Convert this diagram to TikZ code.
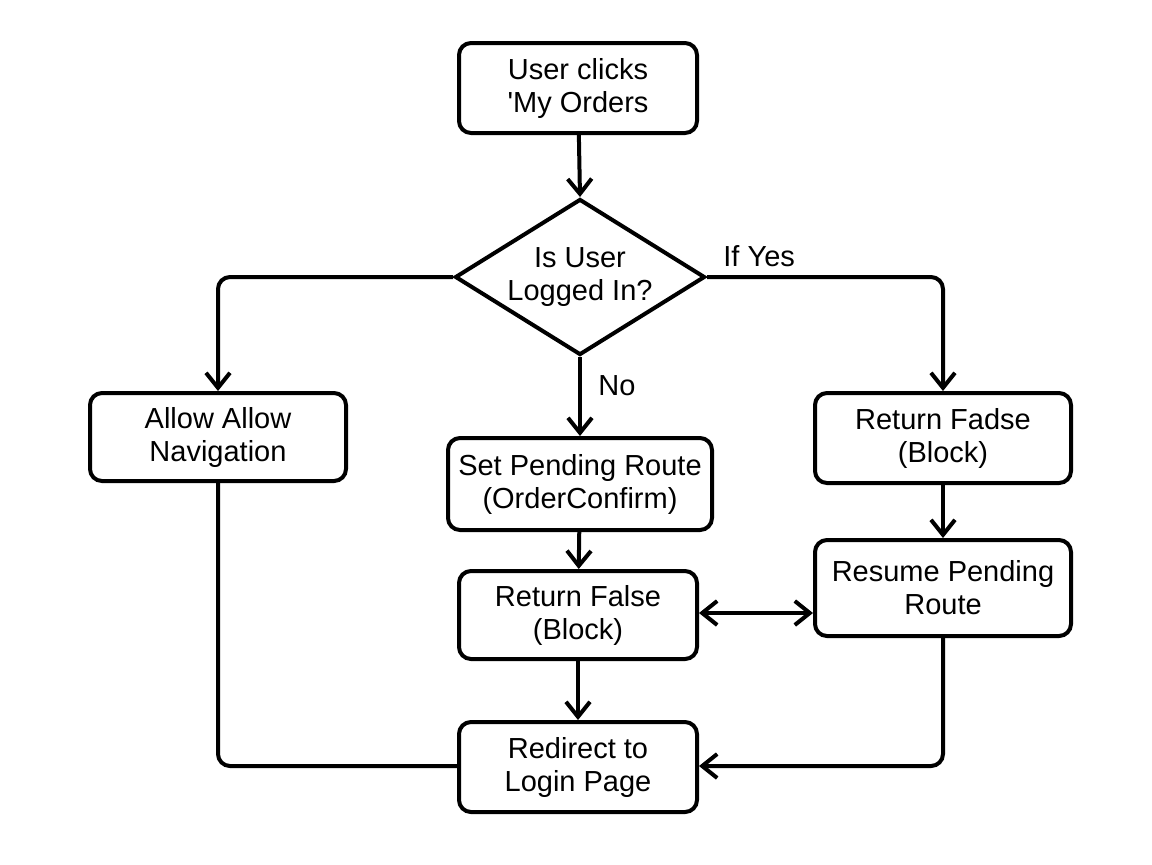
\documentclass[tikz,border=0pt]{standalone}
\usepackage{fontspec}
\setmainfont{Liberation Sans}[Ligatures=TeXOff]
\usetikzlibrary{shapes.geometric,arrows.meta}
\begin{document}
\begin{tikzpicture}[x=0.5pt,y=-0.5pt,
  txt/.style={font=\fontsize{14.5}{16.5}\selectfont},
  box/.style={txt,draw,line width=2pt,rounded corners=6pt,align=center,inner sep=0pt},
  dec/.style={txt,draw,line width=2pt,diamond,shape aspect=1.6,align=center,inner sep=0pt,minimum width=125pt,minimum height=78pt},
  lbl/.style={txt,inner sep=0pt},
  tip/.tip={Straight Barb[length=7.5pt,width=12pt,line width=2pt]},
  conn/.style={line width=2pt,-tip},
  plain/.style={line width=2pt}]
\fill[white] (0,0) rectangle (1152,864);
\useasboundingbox (0,0) rectangle (1152,864);
\node[box,minimum width=119pt,minimum height=45pt] (start) at (578,88) {User clicks\\'My Orders};
\node[dec] (dec) at (580,277) {Is User\\Logged In?};
\node[box,minimum width=128pt,minimum height=44pt] (allow) at (218,437) {Allow Allow\\Navigation};
\node[box,minimum width=132pt,minimum height=46pt] (setp) at (580,484) {Set Pending Route\\(OrderConfirm)};
\node[box,minimum width=128pt,minimum height=45pt] (fadse) at (943,438) {Return Fadse\\(Block)};
\node[box,minimum width=119pt,minimum height=44pt] (rfalse) at (578,615) {Return False\\(Block)};
\node[box,minimum width=128pt,minimum height=48pt] (resume) at (943,588) {Resume Pending\\Route};
\node[box,minimum width=119pt,minimum height=45pt] (redir) at (578,767) {Redirect to\\Login Page};
\node[lbl,anchor=west] (yes) at (723,256) {If Yes};
\node[lbl,anchor=west] (no) at (598,386) {No};
\coordinate (cl) at (218,277);
\coordinate (cr) at (943,277);
\coordinate (bl) at (218,766);
\coordinate (br) at (943,766);
\draw[conn] (start) -- (dec.north);
\draw[conn,rounded corners=6pt] (dec.west) -- (cl) -- (allow.north);
\draw[conn,rounded corners=6pt] (dec.east) -- (cr) -- (fadse.north);
\draw[conn] (dec.south) -- (setp.north);
\draw[conn] (setp) -- (rfalse);
\draw[conn] (rfalse) -- (redir);
\draw[conn] (fadse) -- (resume);
\draw[line width=2pt,tip-tip] (rfalse.east |- 0,613) -- (resume.west |- 0,613);
\draw[plain,rounded corners=6pt] (allow.south) -- (bl) -- (redir.west |- bl);
\draw[conn,rounded corners=6pt] (resume.south) -- (br) -- (redir.east |- br);
\end{tikzpicture}
\end{document}
